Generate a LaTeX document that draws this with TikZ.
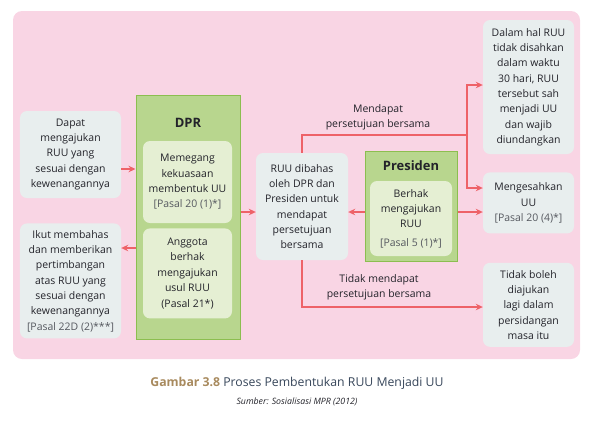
\documentclass[tikz,border=0pt]{standalone}
\usepackage{fontspec}
\setmainfont{Open Sans}
\usetikzlibrary{arrows.meta, positioning}
\definecolor{colBg}{RGB}{249,213,228}
\definecolor{colBox}{RGB}{232,238,238}
\definecolor{colGroup}{RGB}{184,214,142}
\definecolor{colGroupBorder}{RGB}{140,190,80}
\definecolor{colSub}{RGB}{229,239,211}
\definecolor{colArrow}{RGB}{238,98,104}
\definecolor{colText}{RGB}{35,35,42}
\definecolor{colRef}{RGB}{85,88,95}
\definecolor{colGambar}{RGB}{168,138,94}
\definecolor{colCaption}{RGB}{55,70,90}

\begin{document}
\begin{tikzpicture}[
            x=1bp, y=-1bp,
            font=\fontsize{10.5}{15.4}\selectfont,
            box/.style={rectangle, rounded corners=7bp, fill=colBox, draw=none, text=colText, align=center, inner sep=0pt},
            grp/.style={rectangle, fill=colGroup, draw=colGroupBorder, line width=1bp},
            sub/.style={rectangle, rounded corners=7bp, fill=colSub, draw=none, text=colText, align=center, inner sep=0pt},
            ttl/.style={font=\fontsize{13}{15}\selectfont\bfseries, text=colText},
            arrow/.style={-{Stealth[length=7bp, width=6.5bp]}, line width=1.6bp, draw=colArrow},
            link/.style={line width=1.6bp, draw=colArrow},
            lbl/.style={align=center, text=colText}
        ]

        %% ── LATAR ─────────────────────────────────────
        \useasboundingbox (0,0) rectangle (596,420);
        \fill[colBg, rounded corners=9bp] (13,11) rectangle (580,359);

        %% ── KOLOM KIRI ────────────────────────────────
        \node[box, minimum width=101bp, minimum height=87bp] (dapat) at (70.5,154.5)
            {Dapat\\mengajukan\\RUU yang\\sesuai dengan\\kewenangannya};
        \node[box, minimum width=101bp, minimum height=115bp, below=25bp of dapat] (ikut)
            {Ikut membahas\\dan memberikan\\pertimbangan\\atas RUU yang\\sesuai dengan\\kewenangannya\\{\color{colRef}[Pasal 22D (2)***]}};

        %% ── DPR ───────────────────────────────────────
        \node[grp, minimum width=104bp, minimum height=244bp] (dpr) at (188,217) {};
        \node[ttl] (dpr_t) at (188,123) {DPR};
        \node[sub, minimum width=89bp, minimum height=82bp] (memegang) at (187.5,182)
            {Memegang\\kekuasaan\\membentuk UU\\{\color{colRef}[Pasal 20 (1)*]}};
        \node[sub, minimum width=89bp, minimum height=90bp, below=5bp of memegang] (anggota)
            {Anggota\\berhak\\mengajukan\\usul RUU\\(Pasal 21*)};

        %% ── TENGAH : RUU & PRESIDEN ───────────────────
        \node[box, minimum width=92bp, minimum height=107bp] (ruu) at (302,206.5)
            {RUU dibahas\\oleh DPR dan\\Presiden untuk\\mendapat\\persetujuan\\bersama};
        \node[grp, minimum width=92bp, minimum height=110bp] (pres) at (411,206) {};
        \node[ttl] (pres_t) at (411,166) {Presiden};
        \node[sub, minimum width=82bp, minimum height=75bp] (berhak) at (411,218.5)
            {Berhak\\mengajukan\\RUU\\[3bp]{\color{colRef}[Pasal 5 (1)*]}};

        %% ── KOLOM KANAN ───────────────────────────────
        \node[box, minimum width=91bp, minimum height=134bp] (dalam) at (528.5,87)
            {Dalam hal RUU\\tidak disahkan\\dalam waktu\\30 hari, RUU\\tersebut sah\\menjadi UU\\dan wajib\\diundangkan};
        \node[box, minimum width=91bp, minimum height=61bp, below=18bp of dalam] (sahkan)
            {Mengesahkan\\UU\\{\color{colRef}[Pasal 20 (4)*]}};
        \node[box, minimum width=91bp, minimum height=84bp, below=29bp of sahkan] (tidak)
            {Tidak boleh\\diajukan\\lagi dalam\\persidangan\\masa itu};

        %% ── FLÈCHES ───────────────────────────────────
        \draw[arrow] (dapat.east |- 0,169) -- (dpr.west |- 0,169);
        \draw[arrow] (dpr.west |- 0,248) -- (ikut.east |- 0,248);
        \draw[arrow] (dpr.east |- 0,212) -- (ruu.west |- 0,212);
        \draw[arrow] (pres.west |- 0,212) -- (ruu.east |- 0,212);
        \draw[arrow] (pres.east |- 0,212) -- (sahkan.west |- 0,212);

        % persetujuan bersama
        \coordinate (split) at (467,135);
        \draw[link] (ruu.north) |- (split);
        \draw[arrow] (split) |- (dalam.west |- 0,85);
        \draw[arrow] (split) |- (sahkan.west |- 0,188);
        \node[lbl] (lbl_ok) at (378,117.5) {Mendapat\\persetujuan bersama};

        % tidak disetujui
        \draw[arrow] (ruu.south) |- (tidak.west |- 0,307);
        \node[lbl] (lbl_no) at (379,287.5) {Tidak mendapat\\persetujuan bersama};

        %% ── KETERANGAN ────────────────────────────────
        \node (caption) at (297,383) {\fontsize{12.3}{14}\selectfont{\bfseries\color{colGambar}Gambar 3.8} {\color{colCaption}Proses Pembentukan RUU Menjadi UU}};
        \node (sumber) at (297,402) {\fontsize{8.8}{10}\selectfont\itshape\color{colText}Sumber: Sosialisasi MPR (2012)};

\end{tikzpicture}
\end{document}
